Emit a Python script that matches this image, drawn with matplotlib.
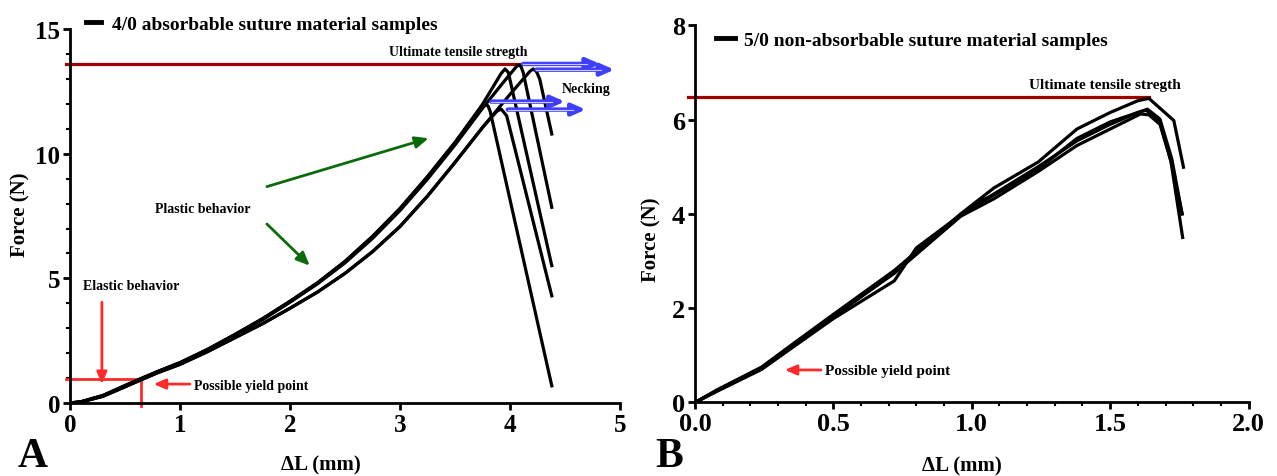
import matplotlib.pyplot as plt
from matplotlib.lines import Line2D
from matplotlib.ticker import MultipleLocator

plt.rcParams['font.family'] = 'serif'
plt.rcParams['font.serif'] = ['Liberation Serif', 'DejaVu Serif']
plt.rcParams['font.weight'] = 'bold'
plt.rcParams['axes.labelweight'] = 'bold'

# ---- Panel A: 4/0 absorbable suture, five samples (dL in mm, force in N)
a1_dl = [0, 0.1, 0.3, 0.5, 0.64, 0.8, 1.0, 1.25, 1.5, 1.75, 2.0, 2.25, 2.5, 2.75, 3.0, 3.25, 3.5, 3.7,
         3.76, 3.8, 3.82, 4.38]
a1_f = [0, 0.05, 0.3, 0.7, 0.97, 1.27, 1.62, 2.15, 2.75, 3.38, 4.08, 4.82, 5.68, 6.68, 7.8, 9.08, 10.45, 11.62,
        11.97, 11.92, 11.7, 0.69]
a2_dl = [0, 0.1, 0.3, 0.5, 0.64, 0.8, 1.0, 1.25, 1.5, 1.75, 2.0, 2.25, 2.5, 2.75, 3.0, 3.25, 3.5, 3.75,
         3.92, 3.955, 3.985, 4.38]
a2_f = [0, 0.05, 0.3, 0.7, 0.97, 1.27, 1.62, 2.15, 2.75, 3.38, 4.08, 4.82, 5.68, 6.68, 7.8, 9.08, 10.45, 11.98,
        13.22, 13.4, 13.26, 5.51]
a3_dl = [0, 0.1, 0.3, 0.5, 0.64, 0.8, 1.0, 1.25, 1.5, 1.75, 2.0, 2.25, 2.5, 2.75, 3.0, 3.25, 3.5, 3.75,
         3.95, 4.05, 4.075, 4.1, 4.12, 4.38]
a3_f = [0, 0.05, 0.3, 0.68, 0.95, 1.25, 1.6, 2.12, 2.72, 3.34, 4.04, 4.78, 5.62, 6.6, 7.72, 8.98, 10.35, 11.82,
        12.92, 13.45, 13.56, 13.5, 13.26, 7.85]
a4_dl = [0, 0.1, 0.3, 0.5, 0.64, 0.8, 1.0, 1.25, 1.5, 1.75, 2.0, 2.25, 2.5, 2.75, 3.0, 3.25, 3.5, 3.75,
         3.88, 3.92, 3.97, 4.38]
a4_f = [0, 0.04, 0.27, 0.65, 0.92, 1.22, 1.55, 2.06, 2.62, 3.18, 3.8, 4.45, 5.2, 6.07, 7.08, 8.3, 9.65, 11.05,
        11.7, 11.79, 11.52, 4.3]
a5_dl = [0, 0.1, 0.3, 0.5, 0.64, 0.8, 1.0, 1.25, 1.5, 1.75, 2.0, 2.25, 2.5, 2.75, 3.0, 3.25, 3.5, 3.75,
         4.0, 4.18, 4.21, 4.24, 4.27, 4.38]
a5_f = [0, 0.04, 0.27, 0.65, 0.92, 1.22, 1.55, 2.06, 2.62, 3.18, 3.8, 4.45, 5.2, 6.07, 7.08, 8.3, 9.65, 11.05,
        12.38, 13.3, 13.4, 13.3, 13.0, 10.79]
a_uts = 13.6
a_uts_end = 4.08
a_yield_dl = 0.65
a_yield_f = 0.96

# ---- Panel B: 5/0 non-absorbable suture, four samples
b1_dl = [0, 0.08, 0.24, 0.36, 0.5, 0.72, 0.96, 1.08, 1.24, 1.38, 1.5, 1.6, 1.64, 1.73, 1.765]
b1_f = [0, 0.27, 0.75, 1.27, 1.87, 2.8, 4.0, 4.55, 5.1, 5.8, 6.15, 6.4, 6.45, 5.98, 4.99]
b2_dl = [0, 0.08, 0.24, 0.36, 0.5, 0.72, 0.96, 1.08, 1.24, 1.38, 1.5, 1.6, 1.635, 1.68, 1.723, 1.76]
b2_f = [0, 0.25, 0.72, 1.24, 1.82, 2.76, 3.98, 4.4, 4.95, 5.6, 5.95, 6.15, 6.22, 6.01, 5.16, 4.0]
b3_dl = [0, 0.08, 0.24, 0.36, 0.5, 0.72, 0.8, 0.96, 1.04, 1.06, 1.24, 1.38, 1.5, 1.6, 1.63, 1.68, 1.72, 1.762]
b3_f = [0, 0.24, 0.7, 1.2, 1.78, 2.58, 3.28, 3.98, 4.3, 4.35, 5.0, 5.55, 5.9, 6.15, 6.2, 5.95, 5.1, 3.5]
b4_dl = [0, 0.08, 0.24, 0.36, 0.5, 0.72, 0.96, 1.08, 1.24, 1.38, 1.5, 1.61, 1.64, 1.68, 1.72, 1.76]
b4_f = [0, 0.26, 0.73, 1.25, 1.83, 2.74, 3.95, 4.32, 4.9, 5.45, 5.8, 6.12, 6.1, 5.9, 5.12, 4.0]
b_uts = 6.47
b_uts_end = 1.64

# annotation arrows (tail, head) in data units
a_blue = [((4.12, 13.6), (4.82, 13.6)), ((4.24, 13.37), (4.95, 13.37)),
          ((3.83, 12.09), (4.5, 12.09)), ((3.98, 11.77), (4.69, 11.77))]
a_green = [((1.79, 8.68), (3.26, 10.62)), ((1.79, 7.18), (2.18, 5.51))]

RED = '#ff2b2b'
DARKRED = '#a00000'
GREEN = '#0b6b0b'
BLUE = '#3f3fff'


def style_axes(ax, size):
    for side in ['top', 'right']:
        ax.spines[side].set_visible(False)
    for side in ['left', 'bottom']:
        ax.spines[side].set_linewidth(2.0)
    ax.tick_params(which='major', direction='out', length=5, width=2, labelsize=size, pad=2)
    ax.tick_params(which='minor', direction='out', length=3, width=1.5)


fig = plt.figure(figsize=(12.77, 4.77), dpi=100)

# ------------------------------------------------------------- panel A
ax = fig.add_axes([0.0548, 0.153, 0.4307, 0.784])
for dl, f in [(a1_dl, a1_f), (a2_dl, a2_f), (a3_dl, a3_f), (a4_dl, a4_f), (a5_dl, a5_f)]:
    ax.plot(dl, f, color='black', lw=2.3, solid_joinstyle='round', zorder=3)
ax.plot([-0.04, a_uts_end], [a_uts, a_uts], color=DARKRED, lw=2.3, clip_on=False, zorder=2)

for (x0, y0), (x1, y1) in a_blue:
    ax.annotate('', xy=(x1, y1), xytext=(x0, y0), annotation_clip=False,
                arrowprops=dict(arrowstyle='-|>,head_length=0.8,head_width=0.35',
                                color=BLUE, lw=3.2, shrinkA=0, shrinkB=0))
    ax.plot([x0, x1 - 0.12], [y0, y1], color='#c8c8ff', lw=0.8, zorder=4)
for (x0, y0), (x1, y1) in a_green:
    ax.annotate('', xy=(x1, y1), xytext=(x0, y0),
                arrowprops=dict(arrowstyle='-|>,head_length=0.8,head_width=0.35',
                                color=GREEN, lw=2, shrinkA=0, shrinkB=0))

# elastic region / yield point marks
ax.plot([-0.04, a_yield_dl], [a_yield_f, a_yield_f], color=RED, lw=2, clip_on=False)
ax.plot([a_yield_dl, a_yield_dl], [a_yield_f, -0.1], color=RED, lw=2, clip_on=False)
ax.annotate('', xy=(0.29, 0.76), xytext=(0.29, 4.04),
            arrowprops=dict(arrowstyle='-|>,head_length=0.7,head_width=0.3',
                            color=RED, lw=2, shrinkA=0, shrinkB=0))
ax.annotate('', xy=(0.76, 0.76), xytext=(1.09, 0.76),
            arrowprops=dict(arrowstyle='-|>,head_length=0.7,head_width=0.3',
                            color=RED, lw=2, shrinkA=0, shrinkB=0))

ax.text(3.53, 14.08, 'Ultimate tensile stregth', fontsize=10, ha='center', va='center')
ax.text(4.69, 12.63, 'Necking', fontsize=10, ha='center', va='center')
ax.text(1.21, 7.82, 'Plastic behavior', fontsize=10, ha='center', va='center')
ax.text(0.56, 4.73, 'Elastic behavior', fontsize=10, ha='center', va='center')
ax.text(1.13, 0.72, 'Possible yield point', fontsize=10, ha='left', va='center')

ax.set_xlim(0, 5)
ax.set_ylim(0, 15)
ax.xaxis.set_major_locator(MultipleLocator(1))
ax.yaxis.set_major_locator(MultipleLocator(5))
ax.yaxis.set_minor_locator(MultipleLocator(1))
style_axes(ax, 18)
ax.set_xlabel('ΔL (mm)', fontsize=15, va='center')
ax.set_ylabel('Force (N)', fontsize=15, va='center')
ax.xaxis.set_label_coords(0.456, -0.165)
ax.yaxis.set_label_coords(-0.09, 0.505)
ax.legend(handles=[Line2D([], [], color='black', lw=3.5)],
          labels=['4/0 absorbable suture material samples'],
          loc='center left', bbox_to_anchor=(0.029, 1.013), frameon=False,
          fontsize=14, handlelength=0.75, handletextpad=0.6, borderpad=0, borderaxespad=0)

# ------------------------------------------------------------- panel B
bx = fig.add_axes([0.5443, 0.1541, 0.4334, 0.7908])
for dl, f in [(b1_dl, b1_f), (b2_dl, b2_f), (b3_dl, b3_f), (b4_dl, b4_f)]:
    bx.plot(dl, f, color='black', lw=2.3, solid_joinstyle='round', zorder=3)
bx.plot([-0.026, b_uts_end], [b_uts, b_uts], color=DARKRED, lw=2.3, clip_on=False, zorder=2)
bx.annotate('', xy=(0.324, 0.69), xytext=(0.455, 0.69),
            arrowprops=dict(arrowstyle='-|>,head_length=0.7,head_width=0.3',
                            color=RED, lw=2, shrinkA=0, shrinkB=0))
bx.text(0.47, 0.67, 'Possible yield point', fontsize=11, ha='left', va='center')
bx.text(1.48, 6.74, 'Ultimate tensile stregth', fontsize=11, ha='center', va='center')

bx.set_xlim(0, 2.0)
bx.set_ylim(0, 8)
bx.xaxis.set_major_locator(MultipleLocator(0.5))
bx.xaxis.set_minor_locator(MultipleLocator(0.1))
bx.yaxis.set_major_locator(MultipleLocator(2))
bx.xaxis.set_major_formatter(plt.FormatStrFormatter('%.1f'))
style_axes(bx, 19)
bx.set_xlabel('ΔL (mm)', fontsize=15, va='center')
bx.set_ylabel('Force (N)', fontsize=15, va='center')
bx.xaxis.set_label_coords(0.482, -0.167)
bx.yaxis.set_label_coords(-0.078, 0.433)
bx.legend(handles=[Line2D([], [], color='black', lw=3.5)],
          labels=['5/0 non-absorbable suture material samples'],
          loc='center left', bbox_to_anchor=(0.038, 0.961), frameon=False,
          fontsize=14, handlelength=0.95, handletextpad=0.5, borderpad=0, borderaxespad=0)

fig.text(18 / 1277, 0.002, 'A', fontsize=30, va='bottom')
fig.text(655 / 1277, 0.002, 'B', fontsize=30, va='bottom')

fig.savefig('out.png', dpi=100)
